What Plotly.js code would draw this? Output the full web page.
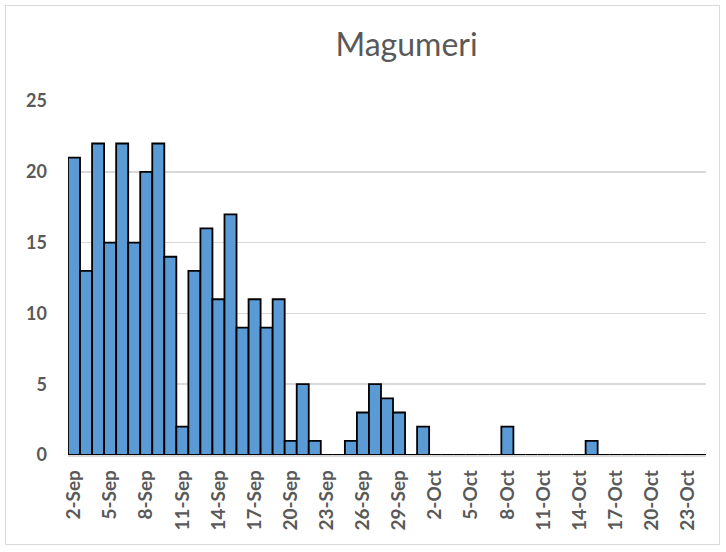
<!DOCTYPE html>
<html>
<head>
<meta charset="utf-8">
<script src="https://cdn.plot.ly/plotly-3.0.1.min.js"></script>
<style>
html,body{margin:0;padding:0;background:#fff;}
#frame{position:absolute;left:5px;top:5px;width:715px;height:540px;border:1px solid #d9d9d9;box-sizing:border-box;}
#chart{position:absolute;left:0;top:0;width:726px;height:552px;}
</style>
</head>
<body>
<div id="frame"></div>
<div id="chart"></div>
<script>
const dates = [
  "2-Sep","3-Sep","4-Sep","5-Sep","6-Sep","7-Sep","8-Sep","9-Sep","10-Sep","11-Sep",
  "12-Sep","13-Sep","14-Sep","15-Sep","16-Sep","17-Sep","18-Sep","19-Sep","20-Sep","21-Sep",
  "22-Sep","23-Sep","24-Sep","25-Sep","26-Sep","27-Sep","28-Sep","29-Sep","30-Sep","1-Oct",
  "2-Oct","3-Oct","4-Oct","5-Oct","6-Oct","7-Oct","8-Oct","9-Oct","10-Oct","11-Oct",
  "12-Oct","13-Oct","14-Oct","15-Oct","16-Oct","17-Oct","18-Oct","19-Oct","20-Oct","21-Oct",
  "22-Oct","23-Oct","24-Oct"
];
const cases = [
  21,13,22,15,22,15,20,22,14,2,
  13,16,11,17,9,11,9,11,1,5,
  1,0,0,1,3,5,4,3,0,2,
  0,0,0,0,0,0,2,0,0,0,
  0,0,0,1,0,0,0,0,0,0,
  0,0,0
];
const tickLabels = ["2-Sep","5-Sep","8-Sep","11-Sep","14-Sep","17-Sep","20-Sep","23-Sep","26-Sep","29-Sep",
  "2-Oct","5-Oct","8-Oct","11-Oct","14-Oct","17-Oct","20-Oct","23-Oct"];
const chartTitle = "Magumeri";

const xTickFont = {family: "Lato, 'Liberation Sans', sans-serif", size: 19, color: "#595959", weight: "bold"};
const yTickFont = {family: "Lato, 'Liberation Sans', sans-serif", size: 18, color: "#595959", weight: "bold"};

Plotly.newPlot("chart", [{
  type: "bar",
  x: dates,
  y: cases,
  marker: {color: "#5b9bd5", line: {color: "#000000", width: 1.8}},
  hoverinfo: "x+y"
}], {
  width: 726, height: 552,
  paper_bgcolor: "rgba(0,0,0,0)",
  plot_bgcolor: "rgba(0,0,0,0)",
  margin: {l: 68, r: 20, t: 101, b: 97},
  bargap: 0,
  showlegend: false,
  title: {text: chartTitle, x: 0.56, xanchor: "center", y: 0.918, yanchor: "middle",
    font: {family: "Lato, 'Open Sans', sans-serif", size: 32, color: "#595959"}},
  xaxis: {
    type: "category",
    tickmode: "array",
    tickvals: tickLabels,
    ticktext: tickLabels,
    tickangle: -90,
    tickfont: xTickFont,
    showgrid: false,
    showline: true, linecolor: "#d9d9d9", linewidth: 1.5,
    ticks: "", ticklen: 0,
    ticklabelstandoff: 6,
    zeroline: false
  },
  yaxis: {
    range: [0, 25],
    dtick: 5,
    tickfont: yTickFont,
    showgrid: true, gridcolor: "#d9d9d9", gridwidth: 1.5,
    zeroline: false,
    showline: false,
    ticks: "",
    ticklabelstandoff: 20
  }
}, {displayModeBar: false, staticPlot: true});
</script>
</body>
</html>
